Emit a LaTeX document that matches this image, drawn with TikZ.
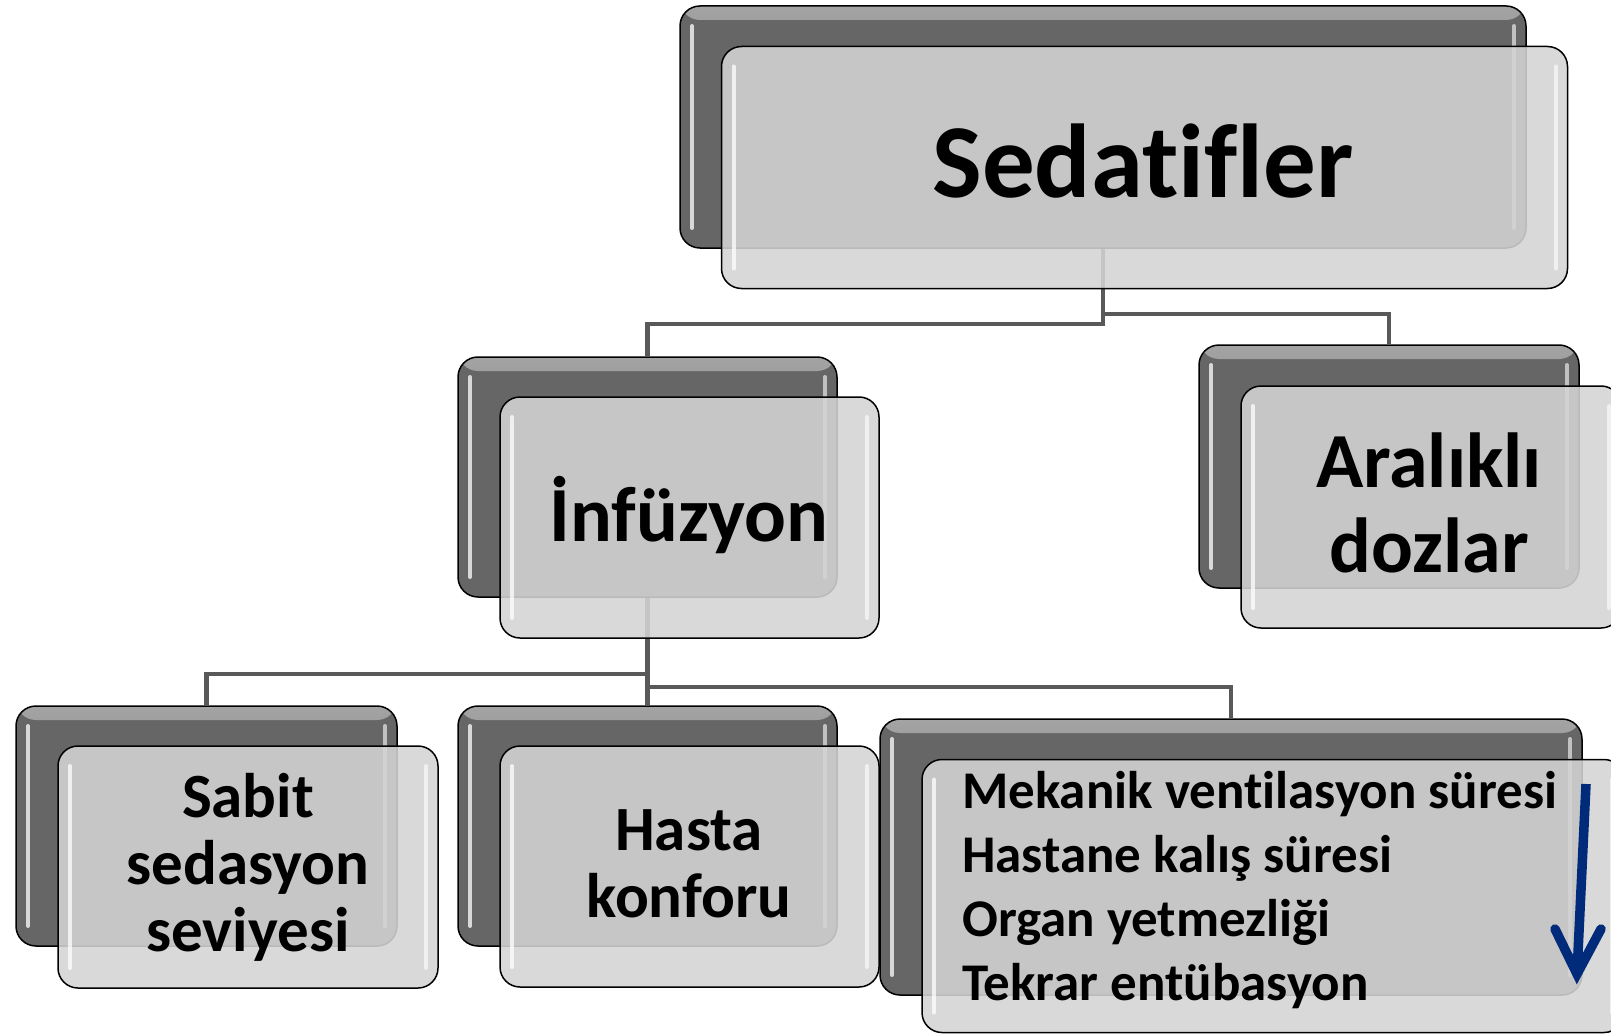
\documentclass[tikz,border=0pt]{standalone}
\usepackage{fontspec}
\setmainfont{Carlito}[Ligatures={NoCommon,NoRare,NoContextual}]
\usetikzlibrary{backgrounds}

\definecolor{backgray}{HTML}{666666}
\definecolor{frontgray}{HTML}{D4D4D4}
\definecolor{linkgray}{HTML}{595959}
\definecolor{navyblue}{HTML}{002A7A}

\tikzset{
  strips/.style={path picture={
    \draw[white, opacity=0.75, line width=4pt, line cap=round]
      ([xshift=12pt,yshift=-20pt]path picture bounding box.north west) --
      ([xshift=12pt,yshift=20pt]path picture bounding box.south west);
    \draw[white, opacity=0.6, line width=4pt, line cap=round]
      ([xshift=-12pt,yshift=-20pt]path picture bounding box.north east) --
      ([xshift=-12pt,yshift=20pt]path picture bounding box.south east);
  }},
  backtop/.style={path picture={
    \shade[top color=white!40!backgray, bottom color=backgray]
      (path picture bounding box.north west) rectangle
      ([yshift=-14pt]path picture bounding box.north east);
    \draw[white, opacity=0.75, line width=4pt, line cap=round]
      ([xshift=12pt,yshift=-20pt]path picture bounding box.north west) --
      ([xshift=12pt,yshift=20pt]path picture bounding box.south west);
    \draw[white, opacity=0.6, line width=4pt, line cap=round]
      ([xshift=-12pt,yshift=-20pt]path picture bounding box.north east) --
      ([xshift=-12pt,yshift=20pt]path picture bounding box.south east);
  }},
  backbox/.style args={#1x#2}{draw=black, line width=1.5pt, rounded corners=20pt,
    fill=backgray, inner sep=0pt, minimum width=#1pt, minimum height=#2pt, backtop},
  frontbox/.style args={#1x#2}{draw=black, line width=1.5pt, rounded corners=20pt,
    fill=frontgray, fill opacity=0.88, draw opacity=1, inner sep=0pt,
    minimum width=#1pt, minimum height=#2pt, strips},
  link/.style={draw=linkgray, line width=4.5pt},
  lbl/.style={text=black, inner sep=0pt, align=center, anchor=base},
  bigfont/.style={font=\bfseries\fontsize{105}{110}\selectfont},
  midfont/.style={font=\bfseries\fontsize{78}{85}\selectfont},
  smallfont/.style={font=\bfseries\fontsize{63}{67}\selectfont},
  listfont/.style={font=\bfseries\fontsize{53}{64}\selectfont},
}

\begin{document}
\begin{tikzpicture}[x=1pt, y=-1pt]
  \useasboundingbox (0,0) rectangle (1611,1035);
  \clip (0,0) rectangle (1611,1035);

  % back layers of the boxes
  \node[backbox=846x242] (topb) at (1103,127) {};
  \node[backbox=379x240] (infb) at (647.5,477) {};
  \node[backbox=380x243] (arab) at (1389,466.5) {};
  \node[backbox=381x240] (sabb) at (206.5,826) {};
  \node[backbox=379x240] (hasb) at (647.5,826) {};
  \node[backbox=702x276] (mekb) at (1231,857) {};

  % translucent front layers
  \node[frontbox=846x242] (topf) at (1144.5,167.5) {};
  \node[frontbox=379x241] (inff) at (689.5,517.5) {};
  \node[frontbox=380x242] (araf) at (1431,507) {};
  \node[frontbox=380x242] (sabf) at (248,867) {};
  \node[frontbox=379x241] (hasf) at (689.5,866.5) {};
  \node[frontbox=702x273] (mekf) at (1273,896) {};

  % labels
  \node[lbl, bigfont] (tSed) at (1143,198) {Sedatifler};
  \node[lbl, midfont] (tInf) at (689,541) {İnfüzyon};
  \node[lbl, midfont] (tAra) at (1429,572) {Aralıklı\\dozlar};
  \node[lbl, smallfont] (tSab) at (248,951) {Sabit\\sedasyon\\seviyesi};
  \node[lbl, smallfont] (tHas) at (689,917) {Hasta\\konforu};
  \node[lbl, listfont, align=left, anchor=base west] (tMek) at (962,1000)
    {Mekanik ventilasyon süresi\\Hastane kalış süresi\\Organ yetmezliği\\Tekrar entübasyon};

  % downward arrow beside the list
  \coordinate (arTop) at (1586,784);
  \coordinate (arTip) at (1577,974);
  \coordinate (arL) at (1555,929);
  \coordinate (arR) at (1601,929);
  \draw[navyblue, line width=9.5pt] (arTop) -- (arTip);
  \draw[navyblue, line width=9.5pt, line cap=round, line join=miter] (arL) -- (arTip) -- (arR);

  % tree connectors
  \begin{scope}[on background layer]
    \draw[link] (topb.south) -- ++(0,75) -| (infb.north);
    \draw[link] (topb.south) -- ++(0,65) -| (arab.north);
    \draw[link] (infb.south) -- ++(0,76) -| (sabb.north);
    \draw[link] (infb.south) -- (hasb.north);
    \draw[link] (infb.south) -- ++(0,89) -| (mekb.north);
  \end{scope}
\end{tikzpicture}
\end{document}
